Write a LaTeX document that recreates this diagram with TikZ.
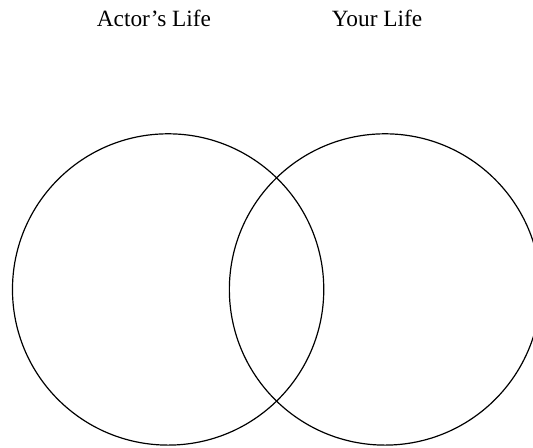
\documentclass[tikz,border=0pt]{standalone}
\usepackage{fontspec}
\setmainfont{Liberation Serif}
\usepackage{tikz}
\usetikzlibrary{positioning}
\definecolor{mydark}{RGB}{0,0,0}
\tikzset{
  lifecircle/.style={circle, draw=mydark, line width=1.2pt,
    minimum size=10.98cm, inner sep=0pt},
  lifelabel/.style={anchor=base, inner sep=0pt,
    font=\fontsize{23.4}{28}\selectfont, text=mydark}
}
\begin{document}
\begin{tikzpicture}[scale=1.0]
  % ── frame (reference proportions) ──────────────────────────────────────────
  \useasboundingbox (0,0) rectangle (18.8,15.8);
  \clip (0,0) rectangle (18.8,15.8);

  % ── titles ─────────────────────────────────────────────────────────────────
  \node[lifelabel] (actortitle) at (5.43,14.88) {Actor’s Life};
  \node[lifelabel] (yourtitle)  at (13.30,14.88) {Your Life};

  % ── the two circles ────────────────────────────────────────────────────────
  \node[lifecircle] (actor) at (5.93,5.59) {};
  \node[lifecircle] (your)  at (13.58,5.59) {};
\end{tikzpicture}
\end{document}
